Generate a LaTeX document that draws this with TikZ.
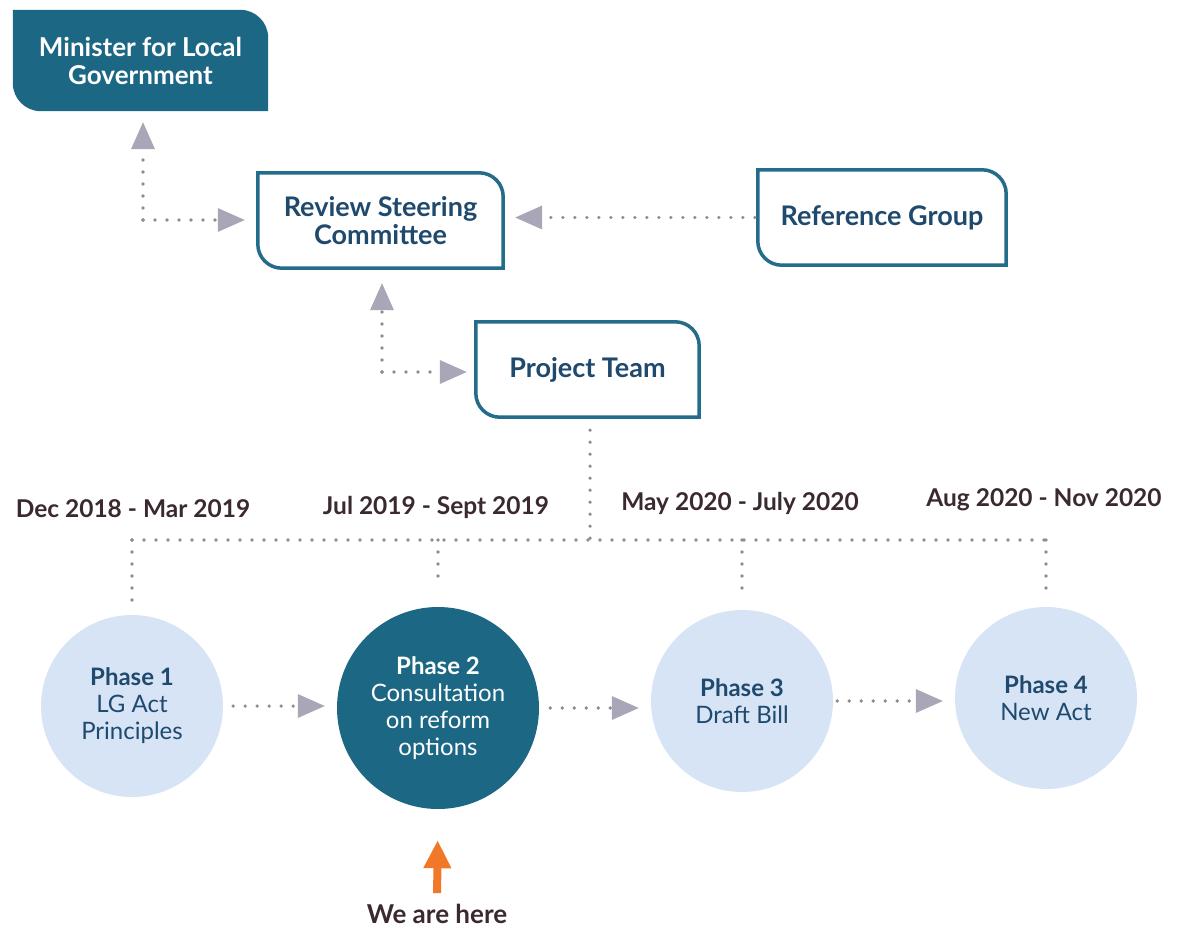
\documentclass[tikz,border=0pt]{standalone}
\usepackage{fontspec}
\setmainfont{Lato}
\usetikzlibrary{calc,arrows.meta}
\definecolor{teal}{HTML}{1C6783}
\definecolor{edge}{HTML}{236C8A}
\definecolor{navy}{HTML}{1F4A6E}
\definecolor{lightc}{HTML}{D6E4F6}
\definecolor{datec}{HTML}{3A2A30}
\definecolor{tipc}{HTML}{A9A6B8}
\definecolor{dotc}{HTML}{8C8C8C}
\definecolor{orangec}{HTML}{F07828}
\newcommand{\leafshape}[3]{%
  \path[#2] (#1.north west) -- ($(#1.north east)+(-#3,0)$)
    arc[start angle=90,end angle=0,radius=#3] -- (#1.south east)
    -- ($(#1.south west)+(#3,0)$) arc[start angle=270,end angle=180,radius=#3] -- cycle;}
\begin{document}
\begin{tikzpicture}[x=1pt,y=1pt,
  boxnode/.style={draw=none,inner sep=0pt,align=center,font=\fontsize{27}{28}\selectfont\bfseries,text=navy},
  phasec/.style={circle,inner sep=0pt,align=center,font=\fontsize{24}{27}\selectfont,text=navy,fill=lightc},
  datelbl/.style={font=\fontsize{24.5}{28}\selectfont\bfseries,text=datec},
  dotline/.style={draw=dotc,line width=3.6pt,line cap=round,dash pattern=on 0pt off 12pt},
  tiparrow/.style={dotline,-{Triangle[length=27pt,width=24pt,color=tipc,line width=0pt]}}]
\useasboundingbox (0,0) rectangle (1178,-931);
% boxes (shape nodes)
\node[boxnode,minimum width=255pt,minimum height=101pt] (min) at (140.5,-60.5) {};
\node[boxnode,minimum width=245pt,minimum height=95pt] (rsc) at (380.5,-220.5) {};
\node[boxnode,minimum width=248pt,minimum height=95pt] (ref) at (882,-217.5) {};
\node[boxnode,minimum width=223pt,minimum height=95pt] (pt) at (587.5,-369.5) {};
\leafshape{min}{fill=teal}{28pt}
\leafshape{rsc}{draw=edge,line width=3.5pt,fill=white}{24pt}
\leafshape{ref}{draw=edge,line width=3.5pt,fill=white}{24pt}
\leafshape{pt}{draw=edge,line width=3.5pt,fill=white}{24pt}
\node[boxnode,text=white,font=\fontsize{26}{28}\selectfont\bfseries] (mint) at (min) {Minister for Local\\Government};
\node[boxnode] (rsct) at (rsc) {Review Steering\\Committee};
\node[boxnode] (reft) at (ref) {Reference Group};
\node[boxnode] (ptt) at (pt) {Project Team};
% circles
\node[phasec,minimum size=182pt] (ph1) at (132,-706) {\textbf{Phase 1}\\LG Act\\Principles};
\node[phasec,minimum size=202pt,fill=teal,text=white] (ph2) at (438,-708) {\textbf{Phase 2}\\Consultation\\on reform\\options};
\node[phasec,minimum size=182pt] (ph3) at (742,-701) {\textbf{Phase 3}\\Draft Bill};
\node[phasec,minimum size=182pt] (ph4) at (1046,-698) {\textbf{Phase 4}\\New Act};
% dates
\node[datelbl] (d1) at (133,-509) {Dec 2018 - Mar 2019};
\node[datelbl] (d2) at (436,-507) {Jul 2019 - Sept 2019};
\node[datelbl] (d3) at (740,-503) {May 2020 - July 2020};
\node[datelbl] (d4) at (1044,-500) {Aug 2020 - Nov 2020};
% we are here
\node[font=\fontsize{26}{28}\selectfont\bfseries,text=datec,inner sep=1pt] (here) at (437,-914) {We are here};
% connectors
\coordinate (c1) at (143,-220);
\draw[tiparrow,shorten >=11pt] (c1) -- (min.south -| c1);
\draw[tiparrow,shorten >=13pt] (c1) -- (rsc.west |- c1);
\draw[tiparrow,shorten <=3pt,shorten >=12pt] (ref.west) -- (rsc.east |- ref.west);
\coordinate (c2) at (382,-372);
\draw[tiparrow,shorten >=15pt] (c2) -- (rsc.south -| c2);
\draw[tiparrow,shorten >=9pt] (c2) -- (pt.west |- c2);
\coordinate (bus) at (590,-540);
\draw[dotline,shorten <=13pt] (pt.south -| bus) -- (bus);
\draw[dotline] (ph1.north |- bus) -- (ph4.north |- bus);
\draw[dotline,shorten >=13pt] (ph1.north |- bus) -- (ph1.north);
\draw[dotline,shorten >=20pt] (ph2.north |- bus) -- (ph2.north);
\draw[dotline,shorten >=18pt] (ph3.north |- bus) -- (ph3.north);
\draw[dotline,shorten >=8pt] (ph4.north |- bus) -- (ph4.north);
\draw[tiparrow,shorten <=10pt,shorten >=12pt] (ph1.east) -- (ph2.west |- ph1.east);
\draw[tiparrow,shorten <=11pt,shorten >=12pt] (ph2.east) -- (ph3.west |- ph2.east);
\draw[tiparrow,shorten <=4pt,shorten >=12pt] (ph3.east) -- (ph4.west |- ph3.east);
\draw[orangec,line width=8pt,shorten <=10pt,shorten >=31pt,-{Triangle[length=28pt,width=26pt]}] (here.north) -- (ph2.south);
\end{tikzpicture}
\end{document}
